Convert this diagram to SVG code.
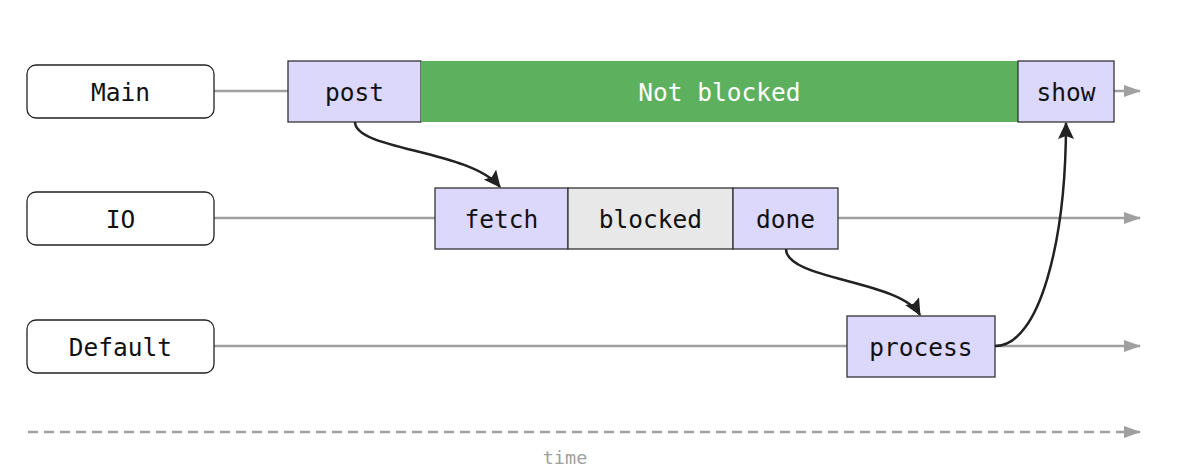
<svg xmlns="http://www.w3.org/2000/svg" width="1192" height="475" viewBox="0 0 1192 475">
<defs>
<marker id="ga" markerWidth="18" markerHeight="12" refX="16" refY="6" orient="auto" markerUnits="userSpaceOnUse"><path d="M0,0 L17,6 L0,12 Z" fill="#a0a0a0"/></marker>
<marker id="ba" markerWidth="18" markerHeight="16" refX="16" refY="8" orient="auto" markerUnits="userSpaceOnUse"><path d="M0,0 L17,8 L0,16 L3,8 Z" fill="#222"/></marker>
</defs>
<style>
.lane{fill:#fff;stroke:#222;stroke-width:1.3}
.task{fill:#dcd8fc;stroke:#333;stroke-width:1.3}
.t{font-family:"DejaVu Sans Mono","Liberation Mono",monospace;font-size:24.5px;fill:#111;text-anchor:middle;dominant-baseline:central}
.tl{stroke:#a0a0a0;stroke-width:2.5;fill:none}
.conn{stroke:#222;stroke-width:2.5;fill:none}
</style>
<rect width="1192" height="475" fill="#fff"/>
<g id="timelines">
<line class="tl" x1="214" y1="91" x2="288" y2="91"/>
<line class="tl" x1="1114" y1="91" x2="1140" y2="91" marker-end="url(#ga)"/>
<line class="tl" x1="214" y1="218" x2="435" y2="218"/>
<line class="tl" x1="838" y1="218" x2="1140" y2="218" marker-end="url(#ga)"/>
<line class="tl" x1="214" y1="346" x2="847" y2="346"/>
<line class="tl" x1="995" y1="346" x2="1140" y2="346" marker-end="url(#ga)"/>
<line class="tl" x1="28" y1="432" x2="1140" y2="432" stroke-width="3" stroke-dasharray="10,6" marker-end="url(#ga)"/>
<text x="565" y="457" font-family="DejaVu Sans Mono,Liberation Mono,monospace" font-size="18.5" fill="#a0a0a0" text-anchor="middle" dominant-baseline="central">time</text>
</g>
<g id="lane-main"><rect class="lane" x="27" y="65" width="187" height="53" rx="9"/><text class="t" x="120.5" y="92">Main</text></g>
<g id="lane-io"><rect class="lane" x="27" y="192" width="187" height="53" rx="9"/><text class="t" x="120.5" y="219">IO</text></g>
<g id="lane-default"><rect class="lane" x="27" y="320" width="187" height="53" rx="9"/><text class="t" x="120.5" y="347">Default</text></g>
<g id="post"><rect class="task" x="288" y="61" width="133" height="61"/><text class="t" x="354.5" y="92">post</text></g>
<g id="notblocked"><rect x="421" y="61" width="597" height="61" fill="#5db05d"/><text class="t" x="719.5" y="92" style="fill:#fff">Not blocked</text></g>
<g id="show"><rect class="task" x="1018" y="61" width="96" height="61"/><text class="t" x="1066" y="92">show</text></g>
<g id="fetch"><rect class="task" x="435" y="188" width="133" height="61"/><text class="t" x="501.5" y="219">fetch</text></g>
<g id="blocked"><rect class="task" x="568" y="188" width="165" height="61" style="fill:#e8e8e8"/><text class="t" x="650.5" y="219">blocked</text></g>
<g id="done"><rect class="task" x="733" y="188" width="105" height="61"/><text class="t" x="785.5" y="219">done</text></g>
<g id="process"><rect class="task" x="847" y="316" width="148" height="61"/><text class="t" x="921" y="347">process</text></g>
<g id="connectors">
<path class="conn" d="M355,122 C355,150 470,150 500,187" marker-end="url(#ba)"/>
<path class="conn" d="M786,249 C786,280 900,280 920,315" marker-end="url(#ba)"/>
<path class="conn" d="M995,346 C1040,346 1066,240 1066,123" marker-end="url(#ba)"/>
</g>
</svg>
